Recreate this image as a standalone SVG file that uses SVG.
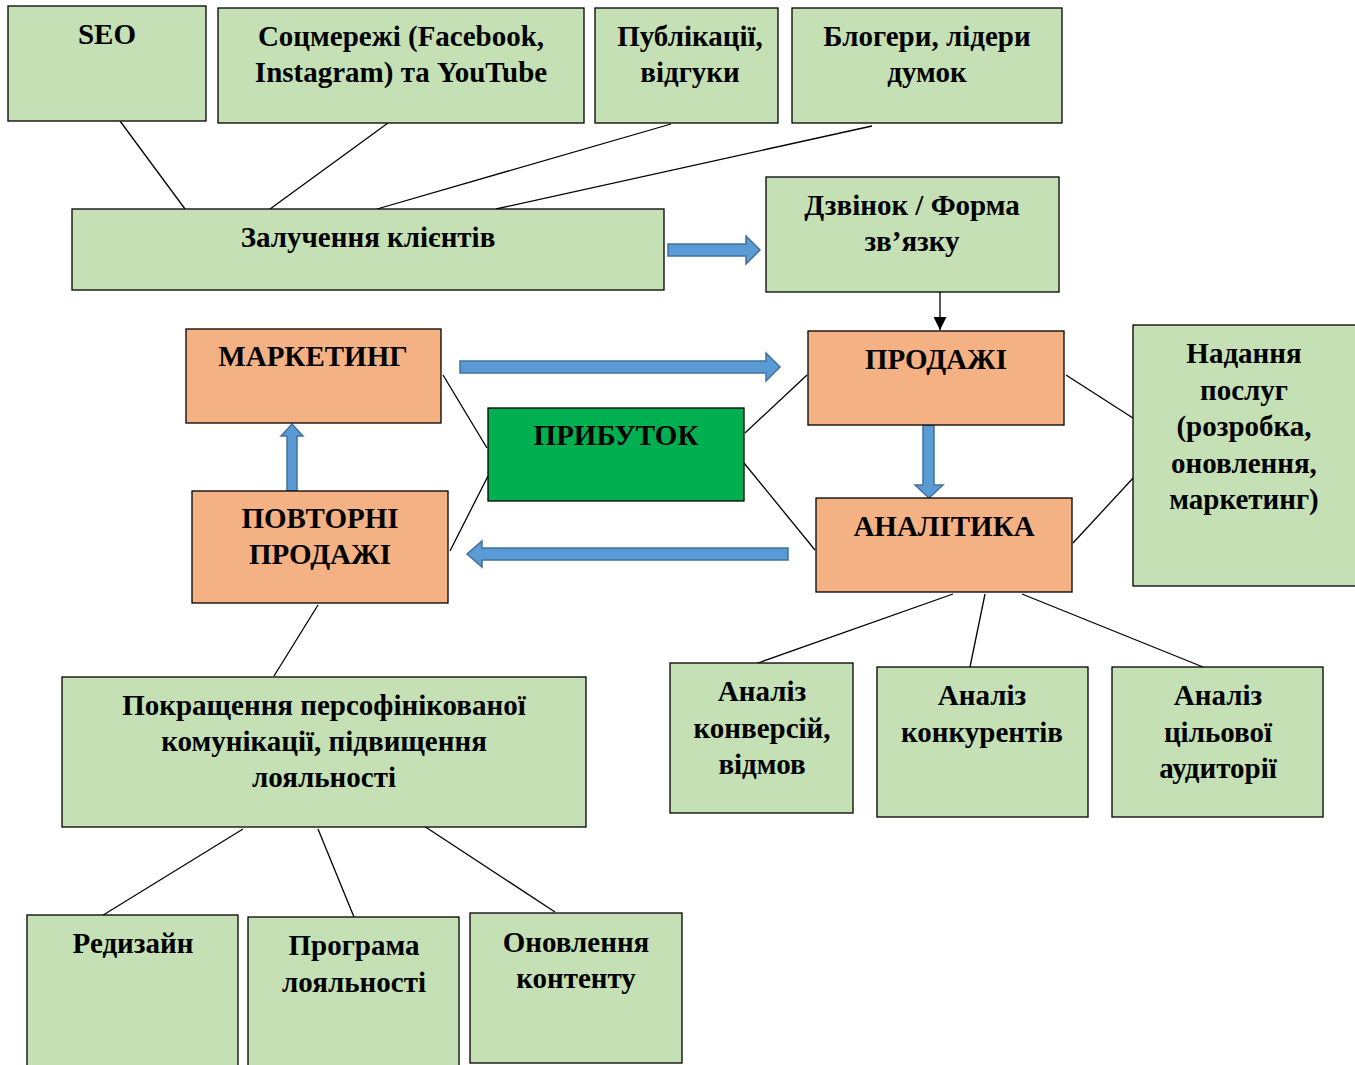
<svg xmlns="http://www.w3.org/2000/svg" width="1355" height="1065" viewBox="0 0 1355 1065">
<style>
.g{fill:#C5E0B4;stroke:#000;stroke-width:1.3}
.o{fill:#F4B183;stroke:#000;stroke-width:1.3}
.p{fill:#00B050;stroke:#000;stroke-width:1.3}
text{font-family:"Liberation Serif","Times New Roman",serif;font-weight:bold;font-size:29px;text-anchor:middle;fill:#000}
.ln{stroke:#000;stroke-width:1.3;fill:none}
.ba{fill:#5B9BD5;stroke:#41719C;stroke-width:1.5}
</style>
<defs>
<marker id="ah" viewBox="0 0 10 10" refX="10" refY="5" markerWidth="10" markerHeight="10" orient="auto" markerUnits="strokeWidth"><path d="M0,0 L10,5 L0,10 z" fill="#000"/></marker>
</defs>
<rect width="1355" height="1065" fill="#fff"/>
<g id="connectors">
<line class="ln" x1="120" y1="121" x2="185" y2="209"/>
<line class="ln" x1="388" y1="123" x2="270" y2="209"/>
<line class="ln" x1="671" y1="124" x2="377" y2="209"/>
<line class="ln" x1="872" y1="126" x2="496" y2="209"/>
<line class="ln" x1="940" y1="292" x2="940" y2="330" marker-end="url(#ah)"/>
<line class="ln" x1="443" y1="375" x2="487" y2="448"/>
<line class="ln" x1="450" y1="551" x2="488" y2="476"/>
<line class="ln" x1="745" y1="433" x2="807" y2="375"/>
<line class="ln" x1="744" y1="463" x2="815" y2="550"/>
<line class="ln" x1="1066" y1="375" x2="1136" y2="420"/>
<line class="ln" x1="1073" y1="543" x2="1135" y2="476"/>
<line class="ln" x1="953" y1="594" x2="755" y2="664"/>
<line class="ln" x1="985" y1="594" x2="970" y2="667"/>
<line class="ln" x1="1022" y1="594" x2="1203" y2="667"/>
<line class="ln" x1="318" y1="605" x2="274" y2="676"/>
<line class="ln" x1="243" y1="829" x2="100" y2="917"/>
<line class="ln" x1="318" y1="829" x2="354" y2="917"/>
<line class="ln" x1="424" y1="826" x2="555" y2="912"/>
<path class="ba" d="M668,244 L746,244 L746,236 L760,250 L746,264 L746,256 L668,256 Z"/>
<path class="ba" d="M460,361 L766,361 L766,353 L780,367 L766,381 L766,373 L460,373 Z"/>
<path class="ba" d="M788,548 L482,548 L482,541 L467,554 L482,567 L482,560 L788,560 Z"/>
<path class="ba" d="M923,425 L934,425 L934,485 L943,485 L929,498 L915,485 L923,485 Z"/>
<path class="ba" d="M287,491 L297,491 L297,436 L303,436 L292,424 L281,436 L287,436 Z"/>
</g>
<g id="n-seo"><rect class="g" x="8" y="6" width="198" height="115"/><text x="107" y="44">SEO</text></g>
<g id="n-social"><rect class="g" x="218" y="8" width="366" height="115"/><text x="401" y="46">Соцмережі (Facebook,</text><text x="401" y="82">Instagram) та YouTube</text></g>
<g id="n-pub"><rect class="g" x="595" y="8" width="183" height="115"/><text x="690" y="46">Публікації,</text><text x="690" y="82">відгуки</text></g>
<g id="n-blog"><rect class="g" x="792" y="8" width="270" height="115"/><text x="927" y="46">Блогери, лідери</text><text x="927" y="82">думок</text></g>
<g id="n-attract"><rect class="g" x="72" y="209" width="592" height="81"/><text x="368" y="247">Залучення клієнтів</text></g>
<g id="n-call"><rect class="g" x="766" y="177" width="293" height="115"/><text x="912" y="215">Дзвінок / Форма</text><text x="912" y="251">зв’язку</text></g>
<g id="n-marketing"><rect class="o" x="186" y="329" width="255" height="94"/><text x="313" y="366">МАРКЕТИНГ</text></g>
<g id="n-sales"><rect class="o" x="808" y="331" width="256" height="94"/><text x="936" y="369">ПРОДАЖІ</text></g>
<g id="n-services"><rect class="g" x="1133" y="325" width="230" height="261"/><text x="1244" y="363">Надання</text><text x="1244" y="400">послуг</text><text x="1244" y="436">(розробка,</text><text x="1244" y="473">оновлення,</text><text x="1244" y="509">маркетинг)</text></g>
<g id="n-profit"><rect class="p" x="488" y="408" width="256" height="93"/><text x="616" y="445">ПРИБУТОК</text></g>
<g id="n-repeat"><rect class="o" x="192" y="491" width="256" height="112"/><text x="320" y="528">ПОВТОРНІ</text><text x="320" y="564">ПРОДАЖІ</text></g>
<g id="n-analytics"><rect class="o" x="816" y="498" width="256" height="94"/><text x="944" y="536">АНАЛІТИКА</text></g>
<g id="n-improve"><rect class="g" x="62" y="677" width="524" height="150"/><text x="324" y="715">Покращення персофінікованої</text><text x="324" y="751">комунікації, підвищення</text><text x="324" y="787">лояльності</text></g>
<g id="n-conv"><rect class="g" x="670" y="663" width="183" height="150"/><text x="762" y="701">Аналіз</text><text x="762" y="738">конверсій,</text><text x="762" y="774">відмов</text></g>
<g id="n-comp"><rect class="g" x="877" y="667" width="211" height="150"/><text x="982" y="705">Аналіз</text><text x="982" y="742">конкурентів</text></g>
<g id="n-audience"><rect class="g" x="1112" y="667" width="211" height="150"/><text x="1218" y="705">Аналіз</text><text x="1218" y="742">цільової</text><text x="1218" y="778">аудиторії</text></g>
<g id="n-redesign"><rect class="g" x="27" y="915" width="211" height="160"/><text x="133" y="953">Редизайн</text></g>
<g id="n-loyalty"><rect class="g" x="248" y="917" width="211" height="160"/><text x="354" y="955">Програма</text><text x="354" y="992">лояльності</text></g>
<g id="n-content"><rect class="g" x="470" y="913" width="212" height="150"/><text x="576" y="952">Оновлення</text><text x="576" y="988">контенту</text></g>
</svg>
